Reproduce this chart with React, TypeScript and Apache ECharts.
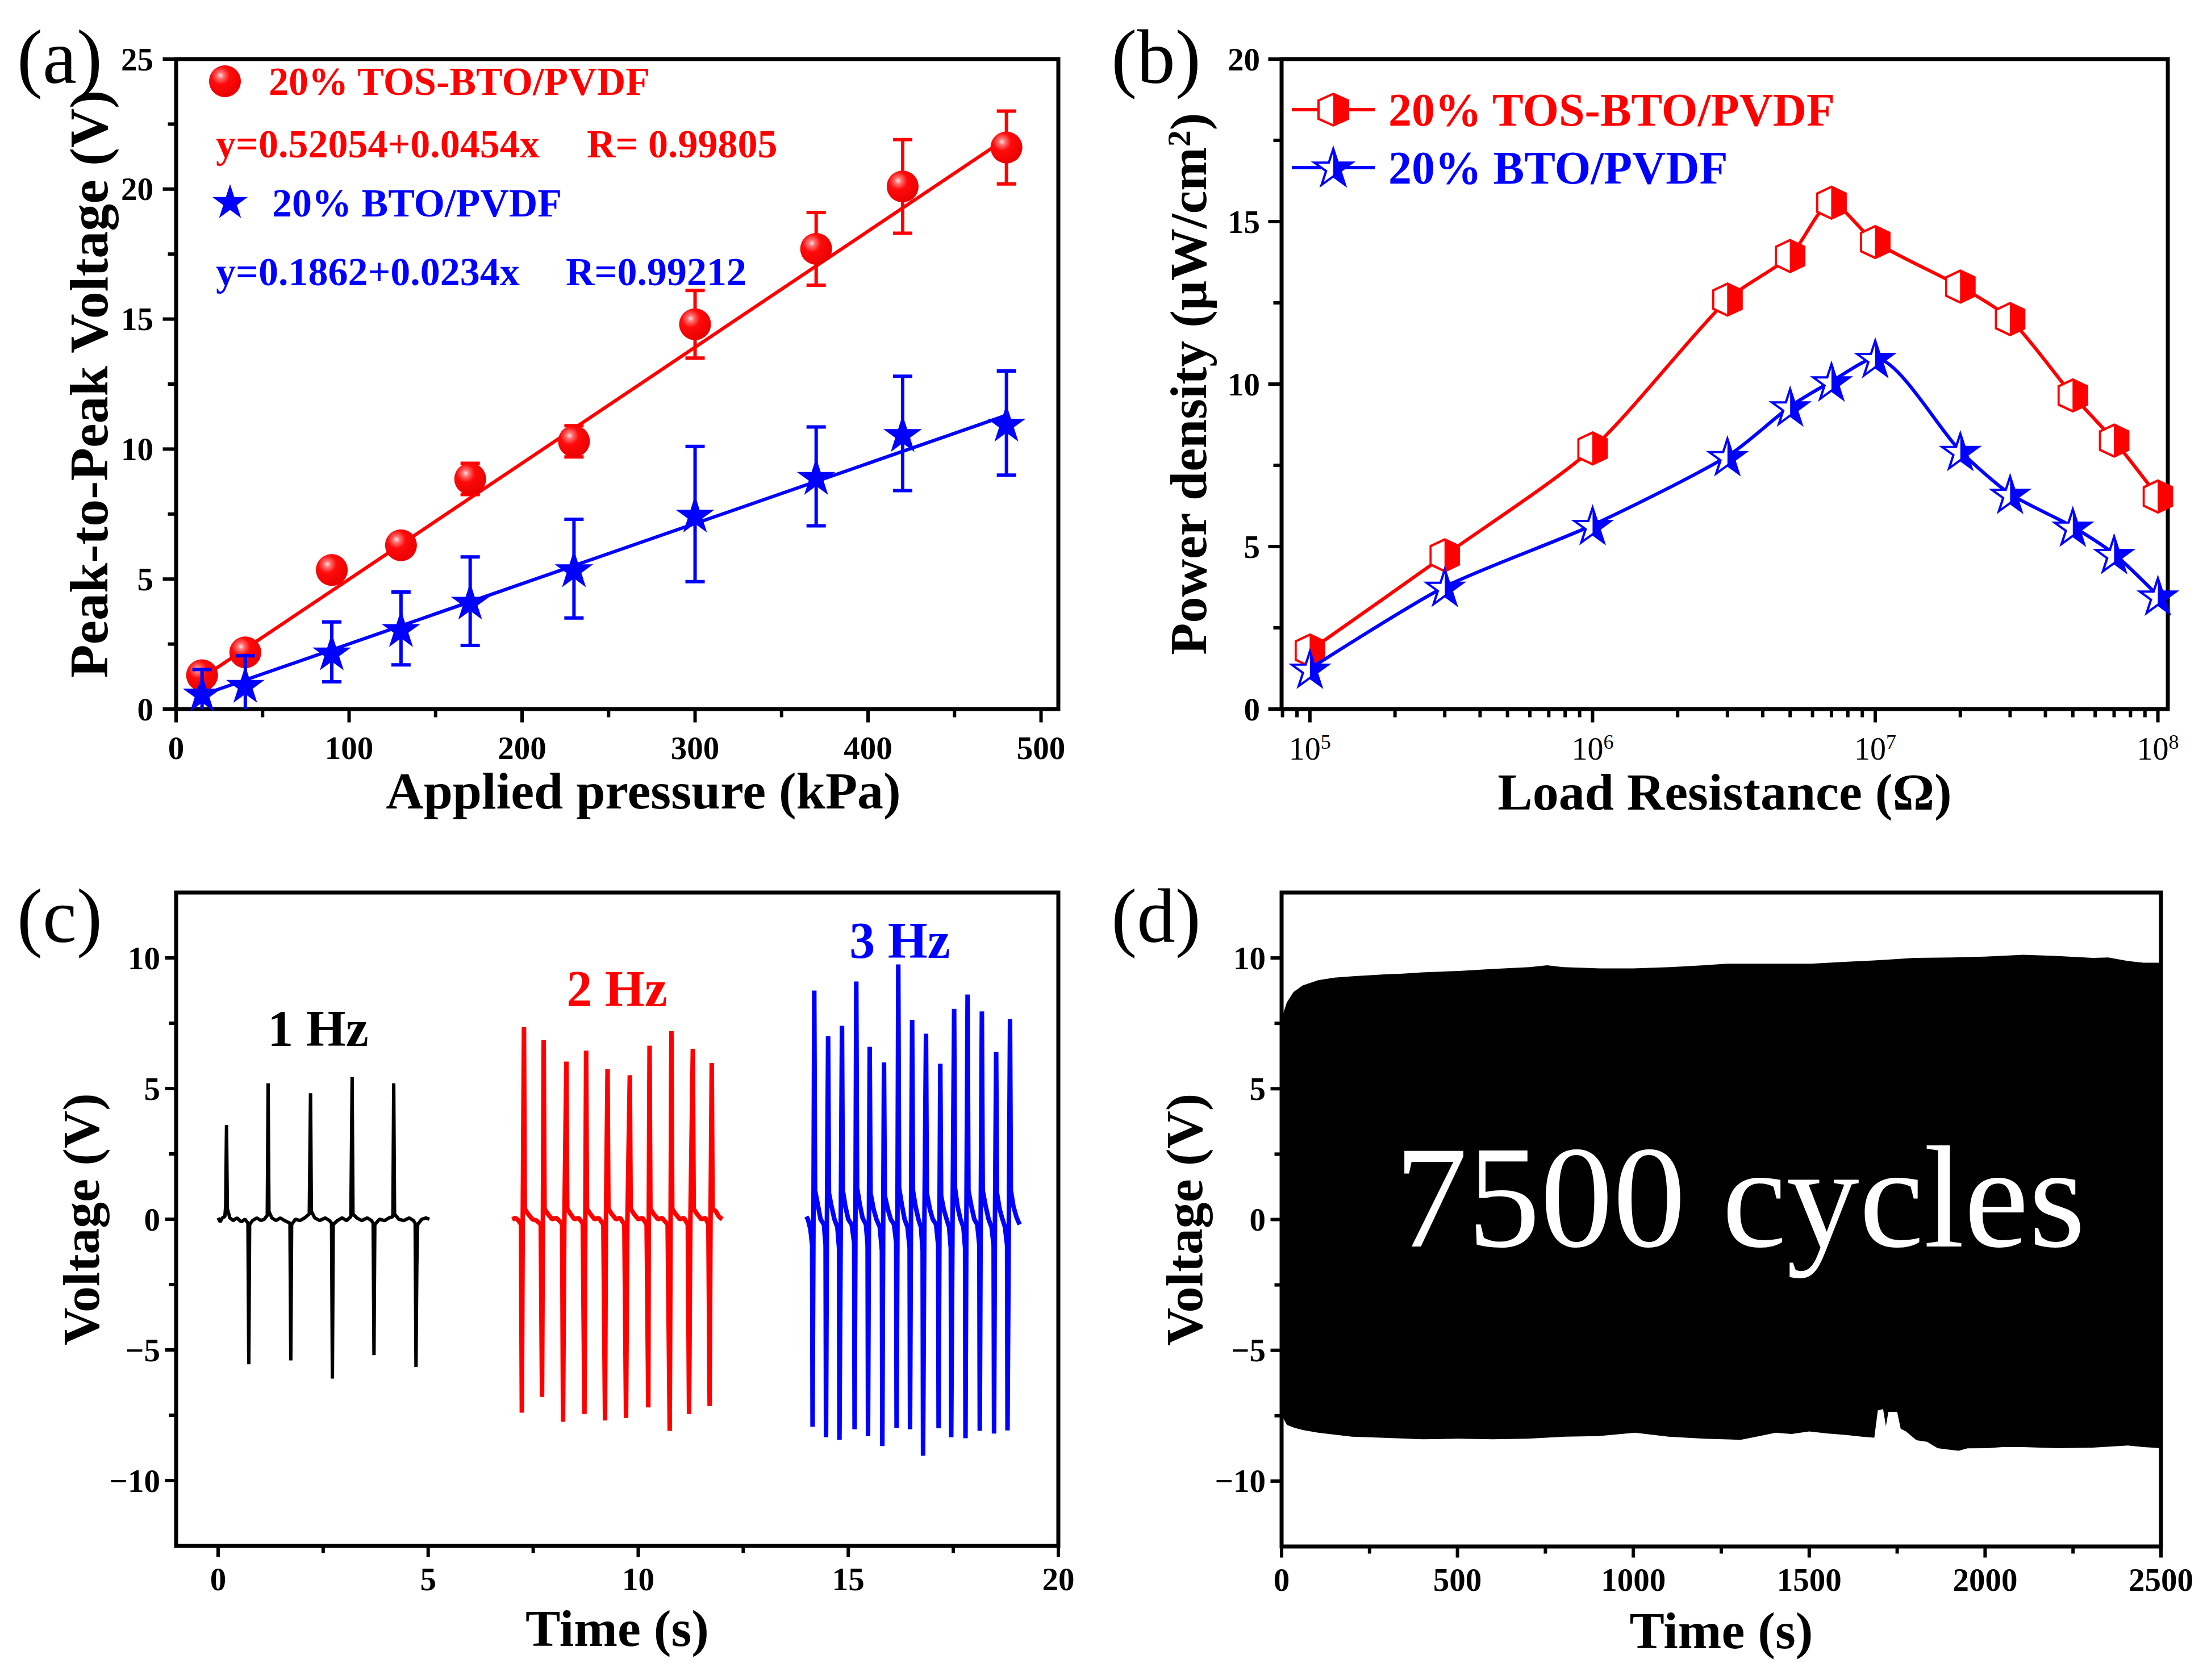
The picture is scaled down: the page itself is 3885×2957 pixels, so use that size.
import React, { useEffect, useRef } from 'react';
import * as echarts from 'echarts';

const FONT = '"Liberation Serif", "Times New Roman", serif';
const RED = '#ff0000';
const BLUE = '#0000ff';
const BLACK = '#000000';

// ---------------- Panel (a): peak-to-peak voltage vs applied pressure ----------------
const pressureKPa = [15, 40, 90, 130, 170, 230, 300, 370, 420, 480];
const tosVpp = [1.3, 2.18, 5.35, 6.3, 8.85, 10.3, 14.8, 17.7, 20.1, 21.6];
const tosVppErr = [0.25, 0.25, 0.4, 0.35, 0.6, 0.6, 1.3, 1.4, 1.8, 1.4];
const btoVpp = [0.62, 0.95, 2.2, 3.1, 4.15, 5.4, 7.5, 8.95, 10.6, 11.0];
const btoVppErr = [0.9, 1.1, 1.15, 1.4, 1.7, 1.9, 2.6, 1.9, 2.2, 2.0];
const tosFitLine = [[15, 1.2], [480, 21.95]];
const btoFitLine = [[15, 0.54], [480, 11.3]];
const pressureTicks = [0, 100, 200, 300, 400, 500];
const pressureMinorTicks = [50, 150, 250, 350, 450];
const vppTicks = [0, 5, 10, 15, 20, 25];
const vppMinorTicks = [2.5, 7.5, 12.5, 17.5, 22.5];

// ---------------- Panel (b): power density vs load resistance ----------------
const loadResistance = [1e5, 3e5, 1e6, 3e6, 5e6, 7e6, 1e7, 2e7, 3e7, 5e7, 7e7, 1e8];
const tosPower = [1.8, 4.73, 8.02, 12.6, 13.94, 15.58, 14.37, 13.0, 12.0, 9.65, 8.26, 6.54];
const btoPower = [1.24, 3.76, 5.66, 7.78, 9.31, 10.08, 10.8, 7.94, 6.62, 5.61, 4.77, 3.49];
const resistanceDecades = [5, 6, 7, 8];
const resistanceMinorTicks = [
  8e4, 9e4,
  2e5, 3e5, 4e5, 5e5, 6e5, 7e5, 8e5, 9e5,
  2e6, 3e6, 4e6, 5e6, 6e6, 7e6, 8e6, 9e6,
  2e7, 3e7, 4e7, 5e7, 6e7, 7e7, 8e7, 9e7,
];
const powerTicks = [0, 5, 10, 15, 20];
const powerMinorTicks = [2.5, 7.5, 12.5, 17.5];

// ---------------- Panel (c): output at 1, 2 and 3 Hz ----------------
const trace1Hz = [
  [0, 0.05], [0.05, -0.1], [0.1, 0.05], [0.16, 0.1], [0.18, 0.5], [0.2, 3.6], [0.22, 0.4], [0.28, 0.05],
  [0.36, -0.05], [0.45, 0.05], [0.55, -0.1], [0.64, 0.0], [0.71, -0.15], [0.73, -5.55], [0.75, -0.2],
  [0.82, -0.05], [0.92, 0.05], [1.02, -0.05], [1.1, 0.0], [1.17, 0.15], [1.19, 5.2], [1.21, 0.3],
  [1.28, 0.05], [1.38, -0.05], [1.48, 0.05], [1.58, -0.05], [1.71, -0.15], [1.73, -5.4], [1.75, -0.2],
  [1.84, 0.0], [1.95, -0.05], [2.06, 0.05], [2.17, 0.2], [2.2, 4.82], [2.22, 0.3], [2.3, 0.05],
  [2.42, -0.05], [2.55, 0.05], [2.65, -0.05], [2.7, -0.15], [2.72, -6.1], [2.74, -0.2], [2.84, -0.05],
  [2.95, 0.05], [3.06, -0.05], [3.16, 0.1], [3.19, 5.44], [3.21, 0.2], [3.3, 0.05], [3.42, -0.05],
  [3.55, 0.05], [3.65, -0.05], [3.69, -0.15], [3.71, -5.2], [3.73, -0.2], [3.84, 0.0], [3.96, -0.05],
  [4.07, 0.05], [4.16, 0.1], [4.18, 5.2], [4.2, 0.2], [4.3, 0.0], [4.42, -0.05], [4.55, 0.05],
  [4.65, -0.05], [4.69, -0.15], [4.71, -5.65], [4.73, -1.8], [4.75, -0.2], [4.85, 0.0], [4.95, 0.05],
  [5.03, 0.0],
];
const trace2Hz = [
  [7.0, 0.0], [7.08, 0.05], [7.15, -0.05], [7.21, -0.2], [7.23, -7.4], [7.25, -0.3], [7.28, 7.35],
  [7.3, 0.4], [7.38, 0.2], [7.48, 0.0], [7.58, -0.05], [7.68, -0.2], [7.71, -6.8], [7.73, -0.3],
  [7.75, 6.86], [7.77, 0.4], [7.85, 0.2], [7.95, 0.0], [8.05, 0.05], [8.15, -0.1], [8.19, -0.2],
  [8.21, -7.75], [8.24, -0.3], [8.29, 6.03], [8.31, 0.4], [8.39, 0.2], [8.48, 0.0], [8.58, 0.05],
  [8.68, -0.15], [8.72, -7.45], [8.74, -0.3], [8.76, 6.45], [8.78, 0.4], [8.86, 0.2], [8.96, 0.0],
  [9.06, 0.05], [9.17, -0.2], [9.21, -7.7], [9.23, -0.3], [9.27, 5.74], [9.29, 0.4], [9.37, 0.2],
  [9.47, 0.0], [9.57, 0.05], [9.67, -0.2], [9.71, -7.6], [9.74, -0.3], [9.8, 5.51], [9.82, 0.4],
  [9.9, 0.2], [10.0, 0.0], [10.1, 0.05], [10.2, -0.2], [10.24, -7.2], [10.25, -0.3], [10.27, 6.64],
  [10.29, 0.4], [10.37, 0.2], [10.47, 0.0], [10.57, 0.05], [10.7, -0.2], [10.75, -8.1], [10.77, -0.3],
  [10.79, 7.2], [10.81, 0.4], [10.89, 0.2], [10.99, 0.0], [11.09, 0.05], [11.18, -0.2], [11.21, -7.45],
  [11.24, -0.3], [11.3, 6.52], [11.32, 0.4], [11.4, 0.2], [11.5, 0.0], [11.6, 0.05], [11.67, -0.2],
  [11.7, -7.15], [11.72, -0.3], [11.75, 5.98], [11.77, 0.4], [11.85, 0.3], [11.92, 0.1], [12.0, 0.0],
];
const trace3Hz = [
  [14.0, 0.1], [14.04, 0.0], [14.1, -0.4], [14.14, -1.0], [14.15, -7.94], [14.17, -0.6], [14.19, 8.75],
  [14.21, 1.1], [14.27, 0.6], [14.34, 0.0], [14.42, -0.2], [14.46, -1.0], [14.47, -8.34], [14.49, -0.5],
  [14.52, 7.0], [14.54, 1.0], [14.6, 0.5], [14.67, 0.0], [14.74, -0.3], [14.78, -1.1], [14.79, -8.44],
  [14.82, -0.4], [14.85, 7.4], [14.87, 1.1], [14.93, 0.5], [15.0, 0.0], [15.08, -0.2], [15.14, -0.9],
  [15.15, -8.04], [15.17, -0.5], [15.19, 9.1], [15.21, 1.2], [15.27, 0.6], [15.34, 0.05], [15.42, -0.2],
  [15.46, -1.0], [15.47, -8.3], [15.49, -0.5], [15.51, 6.6], [15.53, 1.0], [15.6, 0.4], [15.67, 0.0],
  [15.75, -0.3], [15.8, -1.2], [15.81, -8.68], [15.83, -0.6], [15.85, 6.0], [15.87, 0.9], [15.94, 0.4],
  [16.01, 0.0], [16.09, -0.2], [16.14, -0.9], [16.15, -7.98], [16.17, -0.5], [16.19, 9.75], [16.21, 1.2],
  [16.27, 0.6], [16.34, 0.0], [16.41, -0.3], [16.46, -1.1], [16.47, -8.04], [16.49, -0.6], [16.52, 7.63],
  [16.54, 1.1], [16.6, 0.5], [16.67, 0.0], [16.73, -0.3], [16.77, -1.2], [16.78, -9.05], [16.81, -0.5],
  [16.85, 7.1], [16.87, 1.0], [16.94, 0.4], [17.01, 0.0], [17.09, -0.2], [17.14, -1.0], [17.15, -8.0],
  [17.17, -0.5], [17.19, 5.95], [17.21, 0.9], [17.27, 0.4], [17.34, 0.0], [17.4, -0.3], [17.44, -1.1],
  [17.45, -8.34], [17.48, -0.5], [17.52, 8.05], [17.54, 1.2], [17.6, 0.5], [17.67, 0.0], [17.74, -0.3],
  [17.78, -1.1], [17.79, -8.38], [17.81, -0.5], [17.84, 8.6], [17.86, 1.1], [17.93, 0.5], [18.0, 0.0],
  [18.07, -0.2], [18.12, -1.0], [18.13, -8.1], [18.15, -0.5], [18.18, 7.95], [18.2, 1.1], [18.27, 0.5],
  [18.34, 0.0], [18.41, -0.3], [18.46, -1.0], [18.47, -8.2], [18.49, -0.5], [18.52, 6.4], [18.54, 1.0],
  [18.6, 0.4], [18.67, 0.0], [18.73, -0.3], [18.78, -1.0], [18.79, -8.08], [18.82, -0.5], [18.85, 7.65],
  [18.87, 1.1], [18.93, 0.5], [19.0, 0.1], [19.05, -0.1], [19.08, -0.2],
];
const timeTicks = [0, 5, 10, 15, 20];
const timeMinorTicks = [2.5, 7.5, 12.5, 17.5];
const voltTicks = [-10, -5, 0, 5, 10];
const voltMinorTicks = [-7.5, -2.5, 2.5, 7.5];

// ---------------- Panel (d): 7500-cycle durability envelope ----------------
const envelopeUpper = [
  [0, 7.5], [5, 7.9], [15, 8.3], [34, 8.7], [60, 8.95], [104, 9.15], [150, 9.25], [204, 9.3], [300, 9.38],
  [344, 9.4], [400, 9.45], [504, 9.5], [600, 9.58], [705, 9.65], [755, 9.72], [800, 9.65], [905, 9.6],
  [1000, 9.6], [1105, 9.65], [1200, 9.72], [1265, 9.78], [1400, 9.78], [1505, 9.78], [1600, 9.85],
  [1705, 9.92], [1800, 10.0], [1905, 10.02], [2000, 10.05], [2106, 10.12], [2200, 10.08], [2306, 10.0],
  [2350, 10.02], [2406, 9.88], [2450, 9.82], [2500, 9.82],
];
const envelopeLower = [
  [0, -7.3], [5, -7.6], [15, -7.85], [34, -7.95], [60, -8.05], [104, -8.15], [200, -8.3], [304, -8.35],
  [400, -8.4], [500, -8.38], [600, -8.4], [700, -8.38], [805, -8.3], [900, -8.28], [1005, -8.15],
  [1100, -8.3], [1200, -8.38], [1305, -8.42], [1350, -8.3], [1405, -8.15], [1450, -8.2], [1500, -8.1],
  [1550, -8.18], [1605, -8.24], [1650, -8.3], [1685, -8.34], [1695, -7.3], [1710, -7.25], [1718, -7.9],
  [1725, -7.35], [1750, -7.35], [1760, -8.0], [1775, -8.1], [1805, -8.44], [1835, -8.5], [1865, -8.74],
  [1900, -8.8], [1925, -8.84], [1950, -8.75], [2005, -8.74], [2050, -8.7], [2106, -8.7], [2206, -8.74],
  [2306, -8.72], [2406, -8.64], [2450, -8.7], [2500, -8.74],
];
const cycleTimeTicks = [0, 500, 1000, 1500, 2000, 2500];
const cycleTimeMinorTicks = [250, 750, 1250, 1750, 2250];

// ---------------- marker shapes ----------------
const STAR_PATH = 'path://M0,-100 L22.45,-30.9 L95.1,-30.9 L36.33,11.8 L58.78,80.9 L0,38.2 L-58.78,80.9 L-36.33,11.8 L-95.1,-30.9 L-22.45,-30.9 Z';
const STAR_HALF_PATH = 'path://M0,-100 L22.45,-30.9 L95.1,-30.9 L36.33,11.8 L58.78,80.9 L0,38.2 Z';
const HEX_PATH = 'path://M0,-107 L100,-62 L100,62 L0,107 L-100,62 L-100,-62 Z';
const HEX_HALF_PATH = 'path://M0,-107 L100,-62 L100,62 L0,107 Z';
const STAR_UNIT = [[0, -1], [0.2245, -0.309], [0.951, -0.309], [0.3633, 0.118], [0.588, 0.809], [0, 0.382], [-0.588, 0.809], [-0.3633, 0.118], [-0.951, -0.309], [-0.2245, -0.309]];
const STAR_HALF_UNIT = [[0, -1], [0.2245, -0.309], [0.951, -0.309], [0.3633, 0.118], [0.588, 0.809], [0, 0.382]];
const HEX_UNIT = [[0, -1.07], [1, -0.62], [1, 0.62], [0, 1.07], [-1, 0.62], [-1, -0.62]];
const HEX_HALF_UNIT = [[0, -1.07], [1, -0.62], [1, 0.62], [0, 1.07]];

const scalePts = (pts: number[][], sx: number, sy: number) => pts.map(([a, b]) => [a * sx, b * sy]);

const sphereFill = () =>
  new echarts.graphic.RadialGradient(0.36, 0.32, 0.75, [
    { offset: 0, color: '#ffe4e4' },
    { offset: 0.14, color: '#ff7070' },
    { offset: 0.38, color: '#ff0a0a' },
    { offset: 1, color: '#e60000' },
  ]);

const tickFont = { fontFamily: FONT, fontSize: 57, fontWeight: 'bold', color: BLACK };
const nameFont = { fontFamily: FONT, fontSize: 92, fontWeight: 'bold', color: BLACK };

const near = (list: number[], v: number) => list.some((t) => Math.abs(t - v) < 1e-6);
const plainLabel = (list: number[]) => (v: number) => (near(list, v) ? (v < 0 ? '\u2212' + Math.abs(v) : String(v)) : '');

const valueAxis = (gridIndex: number, min: number, max: number, interval: number, name: string, nameGap: number, ticks: number[], margin: number, nameStyle: any = nameFont) => ({
  type: 'value',
  gridIndex,
  min,
  max,
  interval,
  name,
  nameLocation: 'middle',
  nameGap,
  nameTextStyle: nameStyle,
  axisLine: { show: false },
  axisTick: { show: false },
  minorTick: { show: false },
  splitLine: { show: false },
  axisLabel: { ...tickFont, margin, showMinLabel: true, showMaxLabel: true, formatter: plainLabel(ticks) },
});

const errorBar = (color: string) => (_p: any, api: any) => {
  const x = api.value(0);
  const y = api.value(1);
  const e = api.value(2);
  const top = api.coord([x, y + e]);
  const bot = api.coord([x, y - e]);
  const hw = 17;
  const style = { stroke: color, lineWidth: 6 };
  return {
    type: 'group',
    children: [
      { type: 'line', shape: { x1: top[0], y1: top[1], x2: bot[0], y2: bot[1] }, style },
      { type: 'line', shape: { x1: top[0] - hw, y1: top[1], x2: top[0] + hw, y2: top[1] }, style },
      { type: 'line', shape: { x1: bot[0] - hw, y1: bot[1], x2: bot[0] + hw, y2: bot[1] }, style },
    ],
  };
};

const tickRenderer = (major: number, minor: number) => (_p: any, api: any) => {
  const p = api.coord([api.value(0), api.value(1)]);
  const L = (api.value(2) === 1 ? major : minor) + 3.5;
  const isX = api.value(3) === 0;
  return {
    type: 'line',
    shape: isX ? { x1: p[0], y1: p[1], x2: p[0], y2: p[1] + L } : { x1: p[0], y1: p[1], x2: p[0] - L, y2: p[1] },
    style: { stroke: BLACK, lineWidth: 6 },
  };
};

const tickData = (xMaj: number[], xMin: number[], yMaj: number[], yMin: number[], x0: number, y0: number) => [
  ...xMaj.map((v) => [v, y0, 1, 0]),
  ...xMin.map((v) => [v, y0, 0, 0]),
  ...yMaj.map((v) => [x0, v, 1, 1]),
  ...yMin.map((v) => [x0, v, 0, 1]),
];

const tickSeries = (idx: number, data: number[][], major: number, minor: number) => ({
  type: 'custom',
  xAxisIndex: idx,
  yAxisIndex: idx,
  clip: false,
  silent: true,
  z: 10,
  data,
  renderItem: tickRenderer(major, minor),
});

const txt = (text: string, x: number, y: number, size: number, color: string, weight = 'bold', align = 'left') => ({
  type: 'text',
  x,
  y,
  silent: true,
  z: 20,
  style: { text, fill: color, fontSize: size, fontFamily: FONT, fontWeight: weight, align, verticalAlign: 'middle' },
});

function buildOption() {
  const R_MIN = 79400;
  const R_MAX = 1.084e8;

  const grid = [
    { left: 310, top: 104, width: 1553, height: 1144 },
    { left: 2256, top: 104, width: 1560, height: 1144 },
    { left: 310, top: 1571, width: 1553, height: 1150 },
    { left: 2256, top: 1571, width: 1548, height: 1151 },
  ].map((g) => ({ ...g, show: true, borderColor: BLACK, borderWidth: 7, backgroundColor: 'transparent', containLabel: false, outerBoundsMode: 'none' }));

  const logAxis = {
    type: 'log',
    logBase: 10,
    gridIndex: 1,
    min: R_MIN,
    max: R_MAX,
    name: 'Load Resistance (\u03A9)',
    nameLocation: 'middle',
    nameGap: 100,
    nameTextStyle: nameFont,
    axisLine: { show: false },
    axisTick: { show: false },
    minorTick: { show: false },
    splitLine: { show: false },
    axisLabel: {
      margin: 40,
      showMinLabel: true,
      showMaxLabel: true,
      formatter: (v: number) => {
        const e = Math.log10(v);
        const r = Math.round(e);
        return Math.abs(e - r) < 1e-6 && resistanceDecades.includes(r) ? `{b|10}{s|${r}}` : '';
      },
      rich: {
        b: { fontFamily: FONT, fontSize: 56, fontWeight: 'normal', color: BLACK, lineHeight: 60 },
        s: { fontFamily: FONT, fontSize: 36, fontWeight: 'normal', color: BLACK, verticalAlign: 'top', lineHeight: 36 },
      },
    },
  };

  const xAxis = [
    valueAxis(0, 0, 510, 100, 'Applied pressure (kPa)', 95, pressureTicks, 40, { ...nameFont, padding: [0, 0, 0, 92] }),
    logAxis,
    valueAxis(2, -1, 20, 1, 'Time (s)', 99, timeTicks, 30),
    valueAxis(3, 0, 2500, 500, 'Time (s)', 102, cycleTimeTicks, 30),
  ];
  const powerAxis = valueAxis(1, 0, 20, 5, 'Power density (\u03BCW/cm{sup|2})', 118, powerTicks, 38, {
    ...nameFont,
    rich: { sup: { fontFamily: FONT, fontSize: 58, fontWeight: 'bold', color: BLACK, verticalAlign: 'top', lineHeight: 58 } },
  });
  const yAxis = [
    valueAxis(0, 0, 25, 5, 'Peak-to-Peak Voltage (V)', 106, vppTicks, 40, { ...nameFont, fontSize: 96 }),
    powerAxis,
    valueAxis(2, -12.5, 12.5, 2.5, 'Voltage (V)', 112, voltTicks, 28),
    valueAxis(3, -12.5, 12.5, 2.5, 'Voltage (V)', 125, voltTicks, 28),
  ];

  const series: any[] = [
    // ---- (a)
    { type: 'line', xAxisIndex: 0, yAxisIndex: 0, data: tosFitLine, symbol: 'none', lineStyle: { color: RED, width: 6 }, z: 2, silent: true },
    { type: 'line', xAxisIndex: 0, yAxisIndex: 0, data: btoFitLine, symbol: 'none', lineStyle: { color: BLUE, width: 6 }, z: 2, silent: true },
    {
      type: 'custom', xAxisIndex: 0, yAxisIndex: 0, clip: true, z: 3, silent: true,
      data: pressureKPa.map((p, i) => [p, tosVpp[i], tosVppErr[i]]),
      renderItem: errorBar(RED),
    },
    {
      type: 'scatter', xAxisIndex: 0, yAxisIndex: 0, z: 4, silent: true,
      data: pressureKPa.map((p, i) => [p, tosVpp[i]]),
      symbol: 'circle', symbolSize: 56, itemStyle: { color: sphereFill(), opacity: 1 },
    },
    {
      type: 'custom', xAxisIndex: 0, yAxisIndex: 0, clip: true, z: 5, silent: true,
      data: pressureKPa.map((p, i) => [p, btoVpp[i], btoVppErr[i]]),
      renderItem: errorBar(BLUE),
    },
    {
      type: 'scatter', xAxisIndex: 0, yAxisIndex: 0, z: 6, silent: true,
      data: pressureKPa.map((p, i) => [p, btoVpp[i]]),
      symbol: STAR_PATH, symbolSize: [68, 65], itemStyle: { color: BLUE, opacity: 1 },
    },
    // ---- (b)
    {
      type: 'line', xAxisIndex: 1, yAxisIndex: 1, z: 3, silent: true, smooth: 0.25,
      data: loadResistance.map((r, i) => [r, tosPower[i]]),
      symbol: HEX_PATH, symbolSize: [50, 56], showSymbol: true, showAllSymbol: true,
      itemStyle: { color: '#ffffff', borderColor: RED, borderWidth: 4 },
      lineStyle: { color: RED, width: 6 },
    },
    {
      type: 'scatter', xAxisIndex: 1, yAxisIndex: 1, z: 4, silent: true,
      data: loadResistance.map((r, i) => [r, tosPower[i]]),
      symbol: HEX_HALF_PATH, symbolSize: [27, 60], symbolOffset: [13, 0],
      itemStyle: { color: RED, opacity: 1 },
    },
    {
      type: 'line', xAxisIndex: 1, yAxisIndex: 1, z: 5, silent: true, smooth: 0.25,
      data: loadResistance.map((r, i) => [r, btoPower[i]]),
      symbol: STAR_PATH, symbolSize: [64, 61], showSymbol: true, showAllSymbol: true,
      itemStyle: { color: '#ffffff', borderColor: BLUE, borderWidth: 4 },
      lineStyle: { color: BLUE, width: 6 },
    },
    {
      type: 'scatter', xAxisIndex: 1, yAxisIndex: 1, z: 6, silent: true,
      data: loadResistance.map((r, i) => [r, btoPower[i]]),
      symbol: STAR_HALF_PATH, symbolSize: [32, 61], symbolOffset: [16, 0],
      itemStyle: { color: BLUE, opacity: 1 },
    },
    // ---- (c)
    { type: 'line', xAxisIndex: 2, yAxisIndex: 2, data: trace1Hz, symbol: 'none', lineStyle: { color: BLACK, width: 6 }, silent: true, z: 3 },
    { type: 'line', xAxisIndex: 2, yAxisIndex: 2, data: trace2Hz, symbol: 'none', lineStyle: { color: RED, width: 8 }, silent: true, z: 3 },
    { type: 'line', xAxisIndex: 2, yAxisIndex: 2, data: trace3Hz, symbol: 'none', lineStyle: { color: BLUE, width: 8 }, silent: true, z: 3 },
    // ---- (d)
    {
      type: 'custom', xAxisIndex: 3, yAxisIndex: 3, clip: true, silent: true, z: 3,
      data: [[0, 0]],
      renderItem: (_p: any, api: any) => ({
        type: 'polygon',
        shape: {
          points: [
            ...envelopeUpper.map((pt) => api.coord(pt)),
            ...envelopeLower.slice().reverse().map((pt) => api.coord(pt)),
          ],
        },
        style: { fill: BLACK },
      }),
    },
    // ---- ticks
    tickSeries(0, tickData(pressureTicks, pressureMinorTicks, vppTicks, vppMinorTicks, 0, 0), 20, 11),
    tickSeries(1, tickData(resistanceDecades.map((e) => Math.pow(10, e)), resistanceMinorTicks, powerTicks, powerMinorTicks, R_MIN, 0), 20, 11),
    tickSeries(2, tickData(timeTicks, timeMinorTicks, voltTicks, voltMinorTicks, -1, -12.5), 16, 9),
    tickSeries(3, tickData(cycleTimeTicks, cycleTimeMinorTicks, voltTicks, voltMinorTicks, 0, -12.5), 16, 9),
  ];

  const graphic: any[] = [
    // panel labels
    txt('(a)', 105, 100, 135, BLACK, 'normal', 'center'),
    txt('(b)', 2035, 100, 135, BLACK, 'normal', 'center'),
    txt('(c)', 105, 1612, 135, BLACK, 'normal', 'center'),
    txt('(d)', 2035, 1612, 135, BLACK, 'normal', 'center'),
    // (a) legend
    { type: 'circle', x: 396, y: 143, shape: { r: 28 }, style: { fill: sphereFill() }, z: 20, silent: true },
    txt('20% TOS-BTO/PVDF', 473, 143, 70, RED),
    txt('y=0.52054+0.0454x', 380, 253, 70, RED),
    txt('R= 0.99805', 1033, 253, 70, RED),
    { type: 'polygon', x: 405, y: 357, shape: { points: scalePts(STAR_UNIT, 33, 33) }, style: { fill: BLUE }, z: 20, silent: true },
    txt('20% BTO/PVDF', 479, 357, 70, BLUE),
    txt('y=0.1862+0.0234x', 380, 478, 70, BLUE),
    txt('R=0.99212', 996, 478, 70, BLUE),
    // (b) legend
    { type: 'line', shape: { x1: 2274, y1: 193, x2: 2420, y2: 193 }, style: { stroke: RED, lineWidth: 6 }, z: 20, silent: true },
    { type: 'polygon', x: 2347, y: 193, shape: { points: scalePts(HEX_UNIT, 26, 26) }, style: { fill: '#ffffff', stroke: RED, lineWidth: 4 }, z: 21, silent: true },
    { type: 'polygon', x: 2347, y: 193, shape: { points: scalePts(HEX_HALF_UNIT, 26, 26) }, style: { fill: RED }, z: 22, silent: true },
    txt('20% TOS-BTO/PVDF', 2444, 193, 82, RED),
    { type: 'line', shape: { x1: 2274, y1: 295, x2: 2420, y2: 295 }, style: { stroke: BLUE, lineWidth: 6 }, z: 20, silent: true },
    { type: 'polygon', x: 2347, y: 297, shape: { points: scalePts(STAR_UNIT, 35, 35) }, style: { fill: '#ffffff', stroke: BLUE, lineWidth: 4 }, z: 21, silent: true },
    { type: 'polygon', x: 2347, y: 297, shape: { points: scalePts(STAR_HALF_UNIT, 35, 35) }, style: { fill: BLUE }, z: 22, silent: true },
    txt('20% BTO/PVDF', 2444, 295, 82, BLUE),
    // (c) frequency labels
    txt('1 Hz', 560, 1810, 90, BLACK, 'bold', 'center'),
    txt('2 Hz', 1086, 1740, 90, RED, 'bold', 'center'),
    txt('3 Hz', 1584, 1655, 90, BLUE, 'bold', 'center'),
    // (d) annotation
    txt('7500 cycles', 3063, 2107, 256, '#ffffff', 'normal', 'center'),
  ];

  return {
    animation: false,
    backgroundColor: '#ffffff',
    grid,
    xAxis,
    yAxis,
    series,
    graphic,
  };
}

export default function App() {
  const ref = useRef<HTMLDivElement>(null);
  useEffect(() => {
    if (!ref.current) return;
    const chart = echarts.init(ref.current, null, { renderer: 'svg' });
    chart.setOption(buildOption() as any);
    return () => chart.dispose();
  }, []);
  return (
    <div
      ref={ref}
      style={{ position: 'fixed', left: 0, top: 0, width: 3885, height: 2957, background: '#ffffff' }}
    />
  );
}
